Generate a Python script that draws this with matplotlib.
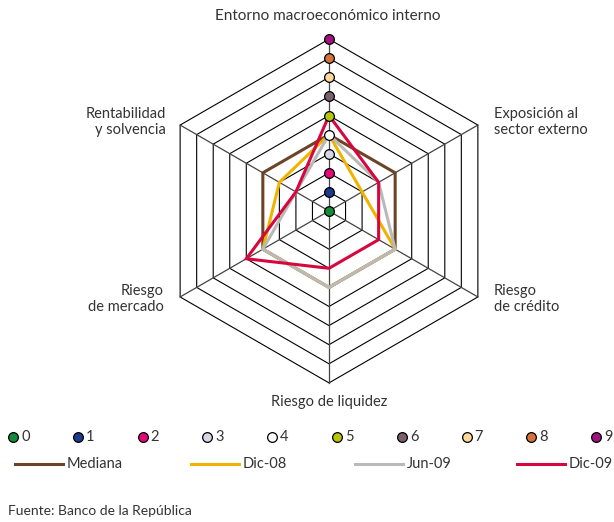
import numpy as np
import matplotlib
matplotlib.use("Agg")
import matplotlib.pyplot as plt

plt.rcParams['font.family'] = ['Lato', 'DejaVu Sans']

categorias = ["Entorno macroeconómico interno", "Exposición al\nsector externo",
              "Riesgo\nde crédito", "Riesgo de liquidez", "Riesgo\nde mercado",
              "Rentabilidad\ny solvencia"]
angulos = [90, 30, -30, -90, -150, 150]

mediana = [4, 4, 4, 4, 4, 4]
dic08 = [4, 2, 4, 4, 4, 3]
jun09 = [4, 3, 4, 4, 4, 2]
dic09 = [5, 3, 3, 3, 5, 2]

series = [("Mediana", mediana, "#6b4428"),
          ("Dic-08", dic08, "#f0b400"),
          ("Jun-09", jun09, "#b9b9b9"),
          ("Dic-09", dic09, "#d8063f")]

niveles = list(range(10))
colores_niv = ["#138a3c", "#1d3a8c", "#e5087a", "#d6d6e6", "#ffffff",
               "#b7c40c", "#7b5f6c", "#fbd79c", "#d2733a", "#a2127f"]

# pixel geometry of the reference
W, H = 614, 522
CX, CY, U = 329, 211, 19.1


def px(x, y):
    return (x - CX) / U, (CY - y) / U


def xy(vals):
    a = np.radians(angulos)
    v = np.array(vals, dtype=float)
    x = v * np.cos(a)
    y = v * np.sin(a)
    return np.append(x, x[0]), np.append(y, y[0])


fig = plt.figure(figsize=(W / 100, H / 100), dpi=100)
ax = fig.add_axes([0, 0, 1, 1])
ax.set_xlim(-CX / U, (W - CX) / U)
ax.set_ylim(-(H - CY) / U, CY / U)
ax.axis('off')

# hexagonal grid
for r in range(1, 10):
    x, y = xy([r] * 6)
    ax.plot(x, y, color="black", lw=0.8, zorder=1)
for a in angulos:
    ax.plot([0, 9 * np.cos(np.radians(a))], [0, 9 * np.sin(np.radians(a))],
            color="#444444", lw=0.9, zorder=1)

for nombre, vals, c in series:
    x, y = xy(vals)
    ax.plot(x, y, color=c, lw=2.2, zorder=3, solid_joinstyle='miter')

# level markers on the top axis
for n, c in zip(niveles, colores_niv):
    ax.plot(0, n, 'o', ms=7, mfc=c, mec="black", mew=0.9, zorder=5)

txt = "#333333"
fs = 10.5
ax.text(*px(328, 16), categorias[0], ha='center', va='center', fontsize=11, color=txt)
ax.text(*px(494, 122), categorias[1], ha='left', va='center', fontsize=fs, color=txt, linespacing=1.25)
ax.text(*px(494, 299), categorias[2], ha='left', va='center', fontsize=fs, color=txt, linespacing=1.25)
ax.text(*px(329, 402), categorias[3], ha='center', va='center', fontsize=fs, color=txt)
ax.text(*px(164, 299), categorias[4], ha='right', va='center', fontsize=fs, color=txt, linespacing=1.25)
ax.text(*px(166, 122), categorias[5], ha='right', va='center', fontsize=fs, color=txt, linespacing=1.25)

# legend, row of levels
for i, (n, c) in enumerate(zip(niveles, colores_niv)):
    mx = 13 + i * 64.8
    ax.plot(*px(mx, 437), 'o', ms=7, mfc=c, mec="black", mew=0.9, clip_on=False)
    ax.text(*px(mx + 8, 437), str(n), ha='left', va='center', fontsize=fs, color=txt)

# legend, row of series
for (nombre, vals, c), x0 in zip(series, [15, 191, 355, 517]):
    p0 = px(x0, 464)
    p1 = px(x0 + 48, 464)
    ax.plot([p0[0], p1[0]], [p0[1], p1[1]], color=c, lw=2.2)
    ax.text(*px(x0 + 52, 464), nombre, ha='left', va='center', fontsize=fs, color=txt)

ax.text(*px(8, 511), "Fuente: Banco de la República", ha='left', va='center',
        fontsize=10, color=txt)

fig.savefig("out.png", dpi=100)
